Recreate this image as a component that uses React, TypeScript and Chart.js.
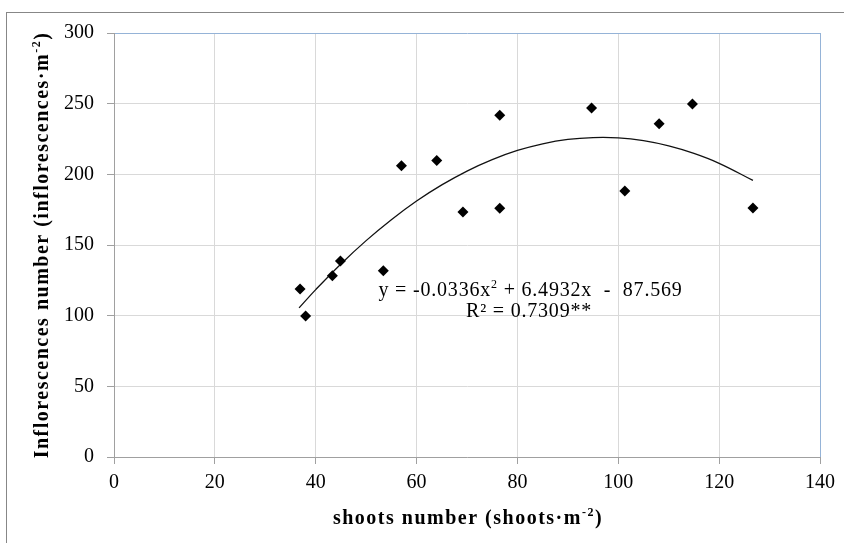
import React, { useEffect, useRef } from 'react';
import { Chart, registerables } from 'chart.js';

Chart.register(...registerables);

// ---- data ----
const shootsX = [36.9, 38.0, 43.3, 44.9, 53.4, 57.0, 64.0, 69.2, 76.5, 76.5, 94.7, 101.3, 108.1, 114.7, 126.7];
const inflorescencesY = [118.9, 99.8, 128.3, 138.7, 131.8, 206.1, 209.7, 173.4, 176.0, 241.8, 246.9, 188.2, 235.8, 249.8, 176.2];

// polynomial trend line
const trendX = [36.7, 40, 45, 50, 55, 60, 65, 70, 75, 80, 85, 90, 95, 100, 105, 110, 115, 120, 126.7];
const trendY = [105.5, 118.4, 136.6, 153.1, 167.9, 181.1, 192.5, 202.3, 210.4, 216.9, 221.6, 224.7, 226.0, 225.8, 223.8, 220.1, 214.8, 207.8, 195.7];

const xTickValues = [0, 20, 40, 60, 80, 100, 120, 140];
const yTickValues = [0, 50, 100, 150, 200, 250, 300];

const xTitleParts: [string, boolean][] = [['shoots number (shoots·m', false], ['-2', true], [')', false]];
const yTitleParts: [string, boolean][] = [['Inflorescences number (inflorescences·m', false], ['-2', true], [')', false]];
const equationParts: [string, boolean][] = [['y = -0.0336x', false], ['2', true], [' + 6.4932x  -  87.569', false]];
const r2Parts: [string, boolean][] = [['R² = 0.7309**', false]];

const SERIF = "'Liberation Serif', 'Times New Roman', serif";

function drawRich(
  ctx: CanvasRenderingContext2D,
  parts: [string, boolean][],
  x: number,
  y: number,
  size: number,
  weight: string,
  spacing: number
) {
  const fontFor = (sup: boolean) => `${weight} ${sup ? Math.round(size * 0.62) : size}px ${SERIF}`;
  (ctx as any).letterSpacing = spacing + 'px';
  let total = 0;
  const widths = parts.map(([t, sup]) => {
    ctx.font = fontFor(sup);
    const w = ctx.measureText(t).width;
    total += w;
    return w;
  });
  let cx = x - total / 2;
  ctx.textAlign = 'left';
  ctx.textBaseline = 'alphabetic';
  ctx.fillStyle = '#000';
  parts.forEach(([t, sup], i) => {
    ctx.font = fontFor(sup);
    ctx.fillText(t, cx, sup ? y - size * 0.4 : y);
    cx += widths[i];
  });
  (ctx as any).letterSpacing = '0px';
}

const decorPlugin = {
  id: 'decor',
  beforeDraw(chart: any) {
    const ctx = chart.ctx as CanvasRenderingContext2D;
    ctx.save();
    ctx.strokeStyle = '#878787';
    ctx.lineWidth = 1;
    ctx.strokeRect(6.5, 12.5, 2000, 2000);
    ctx.restore();
  },
  afterDraw(chart: any) {
    const ctx = chart.ctx as CanvasRenderingContext2D;
    const ca = chart.chartArea;
    ctx.save();
    // x axis title
    drawRich(ctx, xTitleParts, (ca.left + ca.right) / 2 + 1, 524, 20, 'bold', 1.5);
    // y axis title
    ctx.save();
    ctx.translate(48, (ca.top + ca.bottom) / 2);
    ctx.rotate(-Math.PI / 2);
    drawRich(ctx, yTitleParts, 0, 0, 20, 'bold', 1.5);
    ctx.restore();
    // equation
    const xs = chart.scales.x;
    drawRich(ctx, equationParts, xs.getPixelForValue(82.6), 296, 20, 'normal', 0.8);
    drawRich(ctx, r2Parts, xs.getPixelForValue(82.3), 317, 20, 'normal', 0.8);
    ctx.restore();
  },
};

export default function App() {
  const canvasRef = useRef<HTMLCanvasElement | null>(null);

  useEffect(() => {
    document.body.style.margin = '0';
    const canvas = canvasRef.current;
    if (!canvas) return;

    const trendData = trendX.map((x, i) => ({ x, y: trendY[i] }));
    const pointData = shootsX.map((x, i) => ({ x, y: inflorescencesY[i] }));

    const chart = new Chart(canvas, {
      type: 'scatter',
      data: {
        datasets: [
          {
            label: 'points',
            data: pointData,
            pointStyle: 'rectRot',
            pointRadius: 5.5,
            backgroundColor: '#000',
            borderColor: '#000',
            borderWidth: 0,
            order: 0,
          },
          {
            label: 'trend',
            data: trendData,
            showLine: true,
            pointRadius: 0,
            borderColor: '#111',
            borderWidth: 1.3,
            tension: 0.4,
            order: 1,
          },
        ],
      },
      options: {
        responsive: false,
        animation: false,
        events: [],
        layout: { padding: { left: 0, top: 33, right: 24, bottom: 0 } },
        plugins: {
          legend: { display: false },
          tooltip: { enabled: false },
        },
        scales: {
          x: {
            type: 'linear',
            min: xTickValues[0],
            max: xTickValues[xTickValues.length - 1],
            afterBuildTicks: (s: any) => {
              s.ticks = xTickValues.map((v) => ({ value: v }));
            },
            afterFit: (s: any) => {
              s.height = 86;
            },
            ticks: {
              color: '#000',
              font: { family: SERIF, size: 20 },
              padding: 7,
              maxRotation: 0,
            },
            grid: {
              color: (c: any) => (c.tick && c.tick.value === 140 ? '#95b3d7' : '#d9d9d9'),
              tickColor: '#a0a0a0',
              tickLength: 7,
              lineWidth: 1,
            },
            border: { color: '#a0a0a0', width: 1 },
          },
          y: {
            type: 'linear',
            min: yTickValues[0],
            max: yTickValues[yTickValues.length - 1],
            afterBuildTicks: (s: any) => {
              s.ticks = yTickValues.map((v) => ({ value: v }));
            },
            afterFit: (s: any) => {
              s.width = 114;
            },
            ticks: {
              color: '#000',
              font: { family: SERIF, size: 20 },
              padding: 13,
            },
            grid: {
              color: (c: any) => (c.tick && c.tick.value === 300 ? '#95b3d7' : '#d9d9d9'),
              tickColor: '#a0a0a0',
              tickLength: 7,
              lineWidth: 1,
            },
            border: { color: '#a0a0a0', width: 1 },
          },
        },
      },
      plugins: [decorPlugin],
    });

    return () => {
      chart.destroy();
    };
  }, []);

  return (
    <div style={{ width: 844, height: 543, position: 'relative', background: '#fff' }}>
      <canvas ref={canvasRef} width={844} height={543} style={{ display: 'block' }} />
    </div>
  );
}
